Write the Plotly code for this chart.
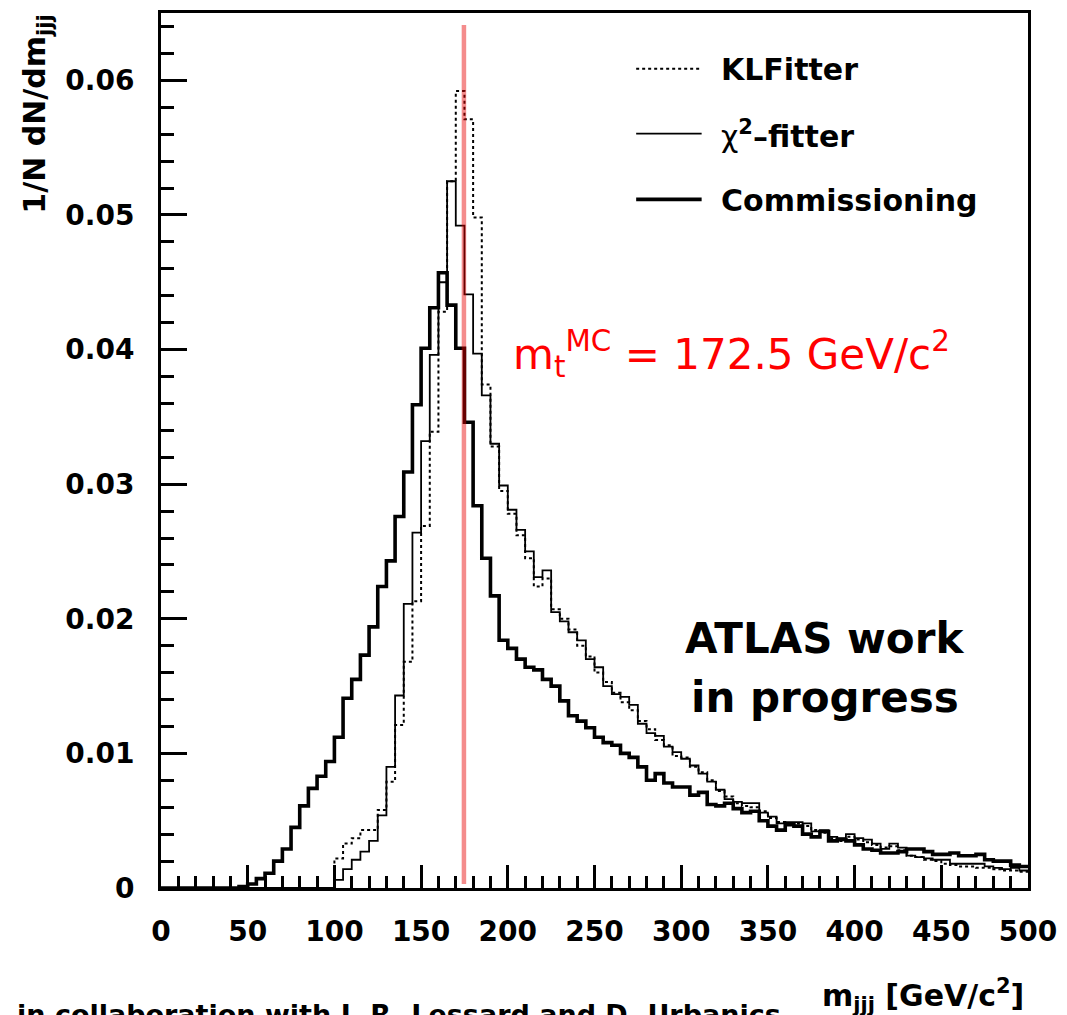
import numpy as np
import plotly.graph_objects as go

# ---------------- data (1/N dN/dm_jjj per 5 GeV bin, 0-500 GeV) ----------------
BIN_LOW = 0
BIN_WIDTH = 5
N_BINS = 100

KLFITTER = [0.0] * 20 + [
    0.0022, 0.0033, 0.0037, 0.0043, 0.0043, 0.0058, 0.0079, 0.0121, 0.0168, 0.0213,
    0.0269, 0.0339, 0.0428, 0.0525, 0.0592, 0.0571, 0.0498, 0.0374, 0.0328, 0.0295,
    0.0278, 0.0262, 0.0245, 0.0224, 0.0230, 0.0207, 0.0200, 0.0192, 0.0180, 0.0172,
    0.0160, 0.0153, 0.0145, 0.0138, 0.0132, 0.0124, 0.0118, 0.0110, 0.0106, 0.0098,
    0.0097, 0.0090, 0.0086, 0.0080, 0.0072, 0.0068, 0.0063, 0.0061, 0.0060, 0.0057,
    0.0052, 0.0049, 0.0047, 0.0048, 0.0046, 0.0043, 0.0041, 0.0037, 0.0035, 0.0038,
    0.0036, 0.0034, 0.0032, 0.0030, 0.0031, 0.0028, 0.0024, 0.0023, 0.0021, 0.0020,
    0.0018, 0.0017, 0.0016, 0.0016, 0.0015, 0.0015, 0.0014, 0.0013, 0.0013, 0.0012,
]

CHI2_FITTER = [0.0] * 20 + [
    0.0006, 0.0014, 0.0021, 0.0027, 0.0035, 0.0054, 0.0090, 0.0143, 0.0211, 0.0264,
    0.0332, 0.0396, 0.0450, 0.0525, 0.0492, 0.0441, 0.0397, 0.0366, 0.0330, 0.0299,
    0.0281, 0.0266, 0.0250, 0.0231, 0.0236, 0.0205, 0.0198, 0.0190, 0.0184, 0.0170,
    0.0164, 0.0150, 0.0144, 0.0142, 0.0136, 0.0122, 0.0115, 0.0113, 0.0105, 0.0101,
    0.0096, 0.0091, 0.0085, 0.0079, 0.0073, 0.0066, 0.0064, 0.0063, 0.0063, 0.0056,
    0.0053, 0.0048, 0.0049, 0.0049, 0.0048, 0.0042, 0.0043, 0.0038, 0.0037, 0.0040,
    0.0037, 0.0036, 0.0033, 0.0029, 0.0033, 0.0030, 0.0024, 0.0023, 0.0022, 0.0021,
    0.0021, 0.0018, 0.0018, 0.0018, 0.0018, 0.0016, 0.0015, 0.0014, 0.0015, 0.0013,
]

COMMISSIONING = [0.0] * 9 + [
    0.0001,
    0.0003, 0.0007, 0.0011, 0.0020, 0.0029, 0.0045, 0.0061, 0.0074, 0.0083, 0.0094,
    0.0112, 0.0141, 0.0155, 0.0173, 0.0194, 0.0224, 0.0243, 0.0276, 0.0309, 0.0359,
    0.0401, 0.0431, 0.0457, 0.0433, 0.0401, 0.0346, 0.0284, 0.0245, 0.0217, 0.0184,
    0.0178, 0.0170, 0.0164, 0.0162, 0.0155, 0.0150, 0.0139, 0.0128, 0.0124, 0.0119,
    0.0112, 0.0108, 0.0106, 0.0100, 0.0097, 0.0090, 0.0080, 0.0085, 0.0078, 0.0075,
    0.0075, 0.0069, 0.0071, 0.0062, 0.0061, 0.0063, 0.0059, 0.0056, 0.0057, 0.0050,
    0.0046, 0.0043, 0.0047, 0.0046, 0.0040, 0.0038, 0.0042, 0.0035, 0.0036, 0.0035,
    0.0032, 0.0029, 0.0028, 0.0026, 0.0026, 0.0027, 0.0029, 0.0029, 0.0027, 0.0025,
    0.0025, 0.0026, 0.0024, 0.0024, 0.0025, 0.0021, 0.0020, 0.0020, 0.0017, 0.0016,
]

MT_LINE_X = 174.7            # position of the drawn top-mass marker line
MT_LINE_Y = [0.0003, 0.0641]  # its vertical extent

X_TICKS = [0, 50, 100, 150, 200, 250, 300, 350, 400, 450, 500]
Y_TICKS = [0, 0.01, 0.02, 0.03, 0.04, 0.05, 0.06]
Y_TICK_LABELS = ["0", "0.01", "0.02", "0.03", "0.04", "0.05", "0.06"]

LEGEND_LABELS = ["KLFitter", "χ<sup><b>2</b></sup><b>–fitter</b>", "Commissioning"]

# ---------------- figure ----------------
W, H = 1067, 1015
ML, MR, MT, MB = 161, 32, 10, 127
PW, PH = W - ML - MR, H - MT - MB
FONT = "DejaVu Sans"


def px(x):
    return (x - ML) / PW


def py(y):
    return (H - MB - y) / PH


edges = BIN_LOW + BIN_WIDTH * np.arange(N_BINS + 1)


def step_y(vals):
    return list(vals) + [vals[-1]]


fig = go.Figure()
fig.add_trace(go.Scatter(x=edges, y=step_y(KLFITTER), mode="lines",
                         line=dict(shape="hv", color="black", width=2, dash="3px,3px"),
                         name="KLFitter", showlegend=False))
fig.add_trace(go.Scatter(x=edges, y=step_y(CHI2_FITTER), mode="lines",
                         line=dict(shape="hv", color="black", width=1.8),
                         name="chi2-fitter", showlegend=False))
fig.add_trace(go.Scatter(x=edges, y=step_y(COMMISSIONING), mode="lines",
                         line=dict(shape="hv", color="black", width=3.6),
                         name="Commissioning", showlegend=False))
fig.add_trace(go.Scatter(x=[MT_LINE_X, MT_LINE_X], y=MT_LINE_Y, mode="lines",
                         line=dict(color="rgba(230,0,0,0.45)", width=4.5),
                         showlegend=False, hoverinfo="skip"))

# manual legend
leg_y = [66, 131, 197]
leg_dash = ["3px,3px", "solid", "solid"]
leg_w = [2, 1.8, 3.6]
shapes = []
annotations = []
for lab, yy, dsh, lw in zip(LEGEND_LABELS, leg_y, leg_dash, leg_w):
    shapes.append(dict(type="line", xref="paper", yref="paper",
                       x0=px(640), x1=px(706), y0=py(yy), y1=py(yy),
                       line=dict(color="black", width=lw, dash=dsh)))
    txt = lab if lab.startswith("χ") else "<b>" + lab + "</b>"
    annotations.append(dict(xref="paper", yref="paper", x=px(724), y=py(yy + 1),
                            xanchor="left", yanchor="middle", showarrow=False,
                            text=txt, font=dict(family=FONT, size=30, color="black")))

# red mass label
annotations.append(dict(xref="paper", yref="paper", x=px(514), y=py(352),
                        xanchor="left", yanchor="middle", showarrow=False,
                        text="m<sub>t</sub><sup>MC</sup> = 172.5 GeV/c<sup>2</sup>",
                        font=dict(family=FONT, size=42, color="#ff0000")))
# ATLAS label
annotations.append(dict(xref="paper", yref="paper", x=px(830), y=py(638),
                        xanchor="center", yanchor="middle", showarrow=False,
                        text="<b>ATLAS work</b>",
                        font=dict(family=FONT, size=42, color="black")))
annotations.append(dict(xref="paper", yref="paper", x=px(830), y=py(697),
                        xanchor="center", yanchor="middle", showarrow=False,
                        text="<b>in progress</b>",
                        font=dict(family=FONT, size=42, color="black")))
# axis titles
annotations.append(dict(xref="paper", yref="paper", x=px(1033), y=py(996),
                        xanchor="right", yanchor="middle", showarrow=False,
                        text="<b>m<sub>jjj</sub> [GeV/c<sup>2</sup>]</b>",
                        font=dict(family=FONT, size=30, color="black")))
annotations.append(dict(xref="paper", yref="paper", x=px(36), y=py(112),
                        xanchor="center", yanchor="middle", showarrow=False,
                        textangle=-90,
                        text="<b>1/N dN/dm<sub>jjj</sub></b>",
                        font=dict(family=FONT, size=30, color="black")))
# bottom credit line (cut by the page edge)
annotations.append(dict(xref="paper", yref="paper", x=px(14), y=py(997),
                        xanchor="left", yanchor="top", showarrow=False,
                        text="<b>in collaboration with J. R. Lessard and D. Urbanics</b>",
                        font=dict(family=FONT, size=27, color="black")))

axis_common = dict(showline=True, linewidth=3, linecolor="black", mirror=True,
                   ticks="inside", tickcolor="black", tickwidth=3,
                   showgrid=False, zeroline=False,
                   tickfont=dict(family=FONT, size=28, color="black", weight="bold"))

fig.update_layout(
    width=W, height=H,
    margin=dict(l=ML, r=MR, t=MT, b=MB),
    plot_bgcolor="white", paper_bgcolor="white",
    shapes=shapes, annotations=annotations,
    xaxis=dict(range=[0, 500], tickvals=X_TICKS, ticktext=[str(v) for v in X_TICKS],
               ticklen=23, ticklabelstandoff=16,
               minor=dict(ticks="inside", ticklen=12, tickwidth=2.5, tickcolor="black", dtick=10, tick0=0),
               **axis_common),
    yaxis=dict(range=[0, 0.065], tickvals=Y_TICKS, ticktext=Y_TICK_LABELS,
               ticklen=26, ticklabelstandoff=18,
               minor=dict(ticks="inside", ticklen=13, tickwidth=2.5, tickcolor="black", dtick=0.002, tick0=0),
               **axis_common),
)

fig.write_html("out.html")
